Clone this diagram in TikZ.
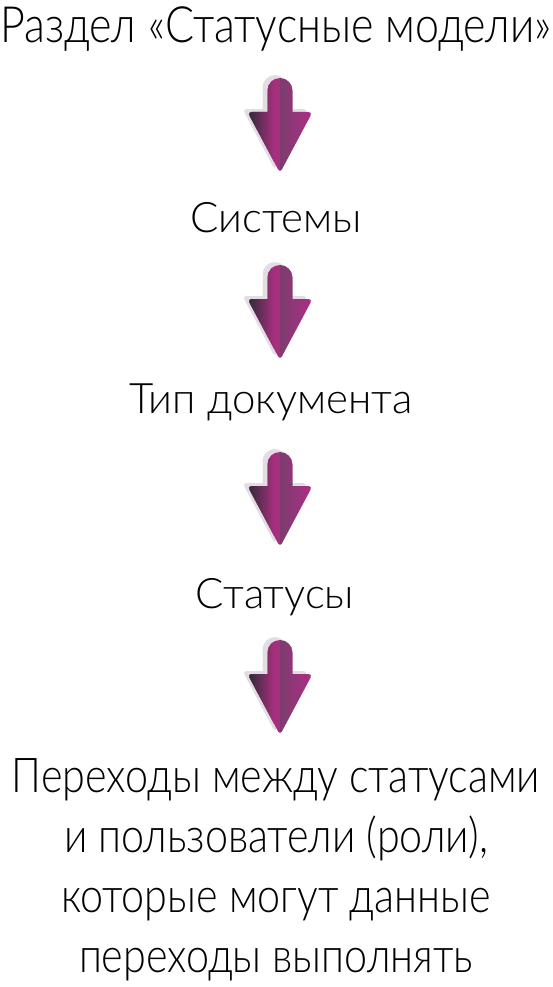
\documentclass[tikz,border=0pt]{standalone}
\usepackage{fontspec}
\setmainfont{Lato}[UprightFont=* Light]
\newfontfamily\narrowlato{Lato}[UprightFont=* Light, FakeStretch=0.86]
\definecolor{arrowdark}{HTML}{2B2A33}
\definecolor{arrowpink}{HTML}{A6307F}
\definecolor{arrowplum}{HTML}{7C3C6E}
\definecolor{arrowrose}{HTML}{B02D88}
\definecolor{arrowshade}{HTML}{E2DDE2}
% block arrow, top of the shaft at (0,0), y going down
\def\arrowpath{(-12.5,34) [rounded corners=4] -- (-32.5,34) -- (0,95)
  -- (32.5,34) [sharp corners] -- (12.5,34) -- (12.5,12.5)
  arc (0:-180:12.5) -- cycle}
\tikzset{
  bigtext/.style={anchor=base, inner sep=0pt, font=\narrowlato\fontsize{50}{60}\selectfont},
  steptext/.style={anchor=base, inner sep=0pt, font=\fontsize{42}{50}\selectfont},
  flowarrow/.pic={
    \fill[arrowshade, shift={(-5,-3)}] \arrowpath;
    \begin{scope}
      \clip \arrowpath;
      \fill[arrowpink] (-33,-1) rectangle (0,96);
      \shade[left color=arrowdark, right color=arrowpink] (-33,-1) rectangle (-6,96);
      \shade[left color=arrowplum, right color=arrowrose] (0,-1) rectangle (33,96);
    \end{scope}
  }
}
\begin{document}
\begin{tikzpicture}[x=1pt, y=-1pt]
  \useasboundingbox (0,0) rectangle (552,987);
  \node[bigtext] (model) at (276,43) {Раздел «Статусные модели»};
  \node[steptext] (systems) at (276,232) {Системы};
  \node[steptext] (doctype) at (271,413) {Тип документа};
  \node[steptext] (statuses) at (275,608) {Статусы};
  \node[bigtext, anchor=north, align=center, font=\narrowlato\fontsize{48}{60}\selectfont] (transitions) at (276,758)
    {Переходы между статусами\\и пользователи (роли),\\которые могут данные\\переходы выполнять};
  \foreach \y in {78,265,452,640}
    \pic at (280,\y) {flowarrow};
\end{tikzpicture}
\end{document}
